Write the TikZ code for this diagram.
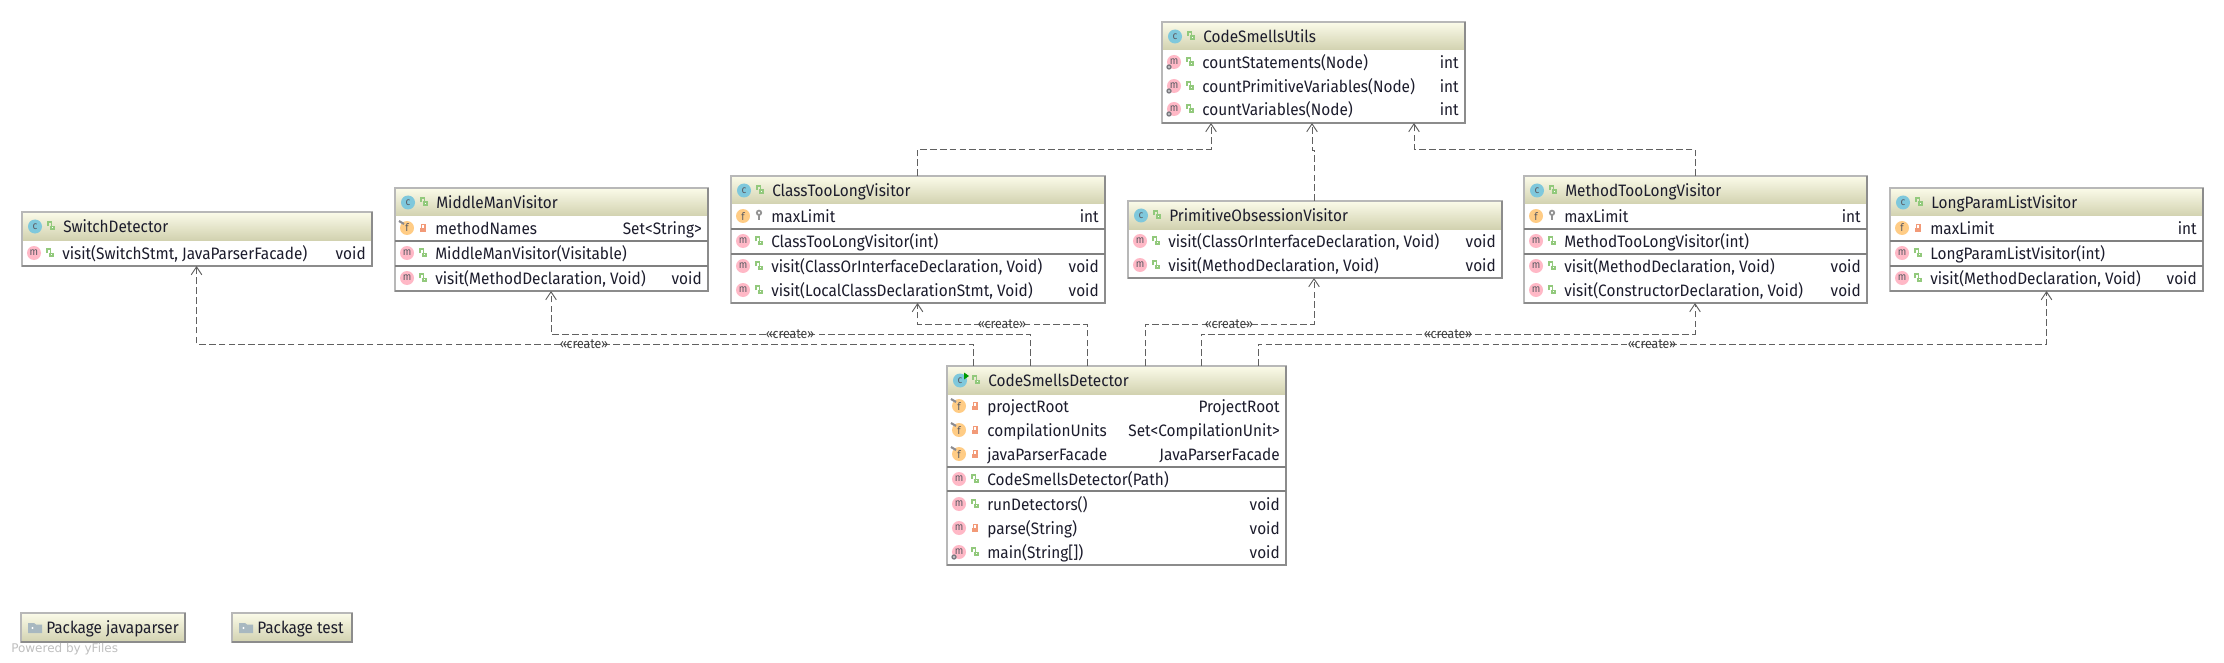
\documentclass[tikz,border=0pt]{standalone}
\usepackage{fontspec}
\setmainfont[FakeStretch=0.93]{Fira Sans}
\newfontfamily\yfont{DejaVu Sans}
\usetikzlibrary{arrows.meta}
\definecolor{hdrtop}{HTML}{FBFBE9}
\definecolor{hdrbot}{HTML}{D2D2B0}
\definecolor{boxline}{HTML}{B8B8B8}
\definecolor{boxshade}{HTML}{8C8C8C}
\definecolor{sepline}{HTML}{808080}
\definecolor{inktext}{HTML}{1C1C2C}
\definecolor{mpink}{HTML}{FFB8C6}
\definecolor{forange}{HTML}{FFCC85}
\definecolor{cblue}{HTML}{7FC8DC}
\definecolor{lockgreen}{HTML}{92C97C}
\definecolor{lockred}{HTML}{F29A78}
\definecolor{iconink}{HTML}{5A5A62}
\definecolor{deplink}{HTML}{606060}
\definecolor{folderc}{HTML}{A8B8C0}
\def\px{0.75pt}
\tikzset{>={Straight Barb[length=6pt,width=8pt]}}
\tikzset{
  classbox/.style={draw=boxline, fill=white, line width=0.8pt, anchor=north west,
    inner sep=0pt, outer sep=0pt},
  header/.style={top color=hdrtop, bottom color=hdrbot},
  pkgbox/.style={draw=boxline, line width=0.8pt, top color=hdrtop, bottom color=hdrbot,
    anchor=north west, inner sep=0pt, outer sep=0pt},
  rowtext/.style={anchor=base west, inner sep=0pt, text=inktext, font=\fontsize{12.4pt}{14pt}\selectfont},
  rowtype/.style={anchor=base east, inner sep=0pt, text=inktext, font=\fontsize{12.4pt}{14pt}\selectfont},
  letter/.style={inner sep=0pt, text=iconink, font=\fontsize{8pt}{8pt}\selectfont},
  stereo/.style={inner sep=0pt, text=black!75, font=\fontsize{10pt}{10pt}\selectfont},
  dep/.style={->, dash pattern=on 5pt off 2.4pt, line width=0.7pt, draw=deplink},
  % member and class icons
  mico/.pic={\fill[mpink] (0,0) circle (7); \node[letter] (-l) at (0,0) {m};},
  msico/.pic={\fill[mpink] (0,0) circle (7); \node[letter] (-l) at (0,0) {m};
    \fill[iconink!80] (-5,5) circle (2.7); \fill[white] (-5,5) circle (0.9);},
  fico/.pic={\fill[forange] (0,0) circle (7); \node[letter] (-l) at (0,0) {f};},
  ffico/.pic={\fill[forange] (0,0) circle (7); \node[letter] (-l) at (0,0) {f};
    \draw[iconink!70, line width=1.6] (-8,-7) -- (-3,-4);},
  cico/.pic={\fill[cblue] (0,0) circle (7); \node[letter] (-l) at (0,0) {c};},
  crico/.pic={\fill[cblue] (0,0) circle (7); \node[letter] (-l) at (0,0) {c};
    \fill[green!60!black] (4,-8) -- (9,-4.5) -- (4,-1) -- cycle;},
  pub/.pic={\fill[lockgreen] (-1.5,-0.5) rectangle (4,4);
    \fill[white] (0.5,1) rectangle (2.2,2.4);
    \draw[lockgreen, line width=1.3] (-3,0) -- (-3,-4) -- (0.5,-4) -- (0.5,-0.5);},
  priv/.pic={\fill[lockred] (-3,-0.5) rectangle (3,4);
    \draw[lockred, line width=1.2] (-1.7,0) -- (-1.7,-3.5) -- (1.7,-3.5) -- (1.7,0);},
  pack/.pic={\draw[boxline!80!black, line width=1.3] (0,-3.2) circle (2.2);
    \draw[boxline!80!black, line width=1.3] (0,-1) -- (0,4.5);},
  folder/.pic={\fill[folderc] (-7,-5) -- (-1,-5) -- (1,-3.5) -- (7,-3.5) -- (7,5) -- (-7,5) -- cycle;
    \fill[white] (-2.5,0) circle (1.2);}
}
% name, left, top, width, height, class icon, visibility, title
\newcommand{\umlclass}[8]{
  \def\lx{#2}\pgfmathsetmacro{\rx}{#2+#4}
  \node[classbox, minimum width=#4*\px, minimum height=#5*\px] (#1) at (#2,#3) {};
  \shade[header] (#1.north west) rectangle ([yshift=-28*\px]#1.north east);
  \draw[boxline, line width=0.8pt] (#1.north west) rectangle (#1.south east);
  \draw[boxshade, line width=0.9pt] (#1.north east) -- (#1.south east) -- (#1.south west);
  \pic (#1i) at (#2+13,#3+14.5) {#6};
  \pic (#1v) at (#2+29,#3+14) {#7};
  \node[rowtext] (#1t) at (#2+41,#3+20.7) {#8};
}
% name, centre y, icon, visibility, text, type
\newcommand{\member}[6]{
  \pic (#1i) at (\lx+12,#2-1) {#3};
  \pic (#1v) at (\lx+28,#2-1) {#4};
  \node[rowtext] (#1t) at (\lx+40,#2+5.7) {#5};
  \node[rowtype] (#1r) at (\rx-6,#2+5.7) {#6};
}
\newcommand{\sep}[2]{\draw[sepline, line width=0.8pt] (#1.west |- 0,#2) -- (#1.east |- 0,#2);}
\begin{document}
\begin{tikzpicture}[x=0.75pt, y=-0.75pt]
  \useasboundingbox (0,0) rectangle (2224,663);

  \umlclass{utils}{1162}{22}{303}{101}{cico}{pub}{CodeSmellsUtils}
  \member{ua}{63}{msico}{pub}{countStatements(Node)}{int}
  \member{ub}{87}{msico}{pub}{countPrimitiveVariables(Node)}{int}
  \member{uc}{110}{msico}{pub}{countVariables(Node)}{int}

  \umlclass{switch}{22}{212}{350}{54}{cico}{pub}{SwitchDetector}
  \member{sa}{254}{mico}{pub}{visit(SwitchStmt, JavaParserFacade)}{void}

  \umlclass{middle}{395}{188}{313}{103}{cico}{pub}{MiddleManVisitor}
  \member{ma}{229}{ffico}{priv}{methodNames}{Set<String>}
  \member{mb}{254}{mico}{pub}{MiddleManVisitor(Visitable)}{}
  \member{mc}{279}{mico}{pub}{visit(MethodDeclaration, Void)}{void}
  \sep{middle}{241}
  \sep{middle}{266}

  \umlclass{toolong}{731}{176}{374}{127}{cico}{pub}{ClassTooLongVisitor}
  \member{ta}{217}{fico}{pack}{maxLimit}{int}
  \member{tb}{242}{mico}{pub}{ClassTooLongVisitor(int)}{}
  \member{tc}{267}{mico}{pub}{visit(ClassOrInterfaceDeclaration, Void)}{void}
  \member{td}{291}{mico}{pub}{visit(LocalClassDeclarationStmt, Void)}{void}
  \sep{toolong}{229}
  \sep{toolong}{254}

  \umlclass{primitive}{1128}{201}{374}{77}{cico}{pub}{PrimitiveObsessionVisitor}
  \member{pa}{242}{mico}{pub}{visit(ClassOrInterfaceDeclaration, Void)}{void}
  \member{pb}{266}{mico}{pub}{visit(MethodDeclaration, Void)}{void}

  \umlclass{method}{1524}{176}{343}{127}{cico}{pub}{MethodTooLongVisitor}
  \member{ya}{217}{fico}{pack}{maxLimit}{int}
  \member{yb}{242}{mico}{pub}{MethodTooLongVisitor(int)}{}
  \member{yc}{267}{mico}{pub}{visit(MethodDeclaration, Void)}{void}
  \member{yd}{291}{mico}{pub}{visit(ConstructorDeclaration, Void)}{void}
  \sep{method}{229}
  \sep{method}{254}

  \umlclass{longparam}{1890}{188}{313}{103}{cico}{pub}{LongParamListVisitor}
  \member{la}{229}{fico}{priv}{maxLimit}{int}
  \member{lb}{254}{mico}{pub}{LongParamListVisitor(int)}{}
  \member{lc}{279}{mico}{pub}{visit(MethodDeclaration, Void)}{void}
  \sep{longparam}{241}
  \sep{longparam}{266}

  \umlclass{detector}{947}{366}{339}{199}{crico}{pub}{CodeSmellsDetector}
  \member{da}{407}{ffico}{priv}{projectRoot}{ProjectRoot}
  \member{db}{431}{ffico}{priv}{compilationUnits}{Set<CompilationUnit>}
  \member{dc}{455}{ffico}{priv}{javaParserFacade}{JavaParserFacade}
  \member{dd}{480}{mico}{pub}{CodeSmellsDetector(Path)}{}
  \member{de}{505}{mico}{pub}{runDetectors()}{void}
  \member{df}{529}{mico}{priv}{parse(String)}{void}
  \member{dg}{553}{msico}{pub}{main(String[])}{void}
  \sep{detector}{467}
  \sep{detector}{491}

  % detector to the visitors
  \draw[dep] ([xshift=26*\px]detector.north west) -- ++(0,-22) -| ([xshift=174.5*\px]switch.south west);
  \draw[dep] ([xshift=83*\px]detector.north west) -- ++(0,-32) -| ([xshift=156*\px]middle.south west);
  \draw[dep] ([xshift=140*\px]detector.north west) -- ++(0,-42) -| ([xshift=186.5*\px]toolong.south west);
  \draw[dep] ([xshift=198*\px]detector.north west) -- ++(0,-42) -| ([xshift=186*\px]primitive.south west);
  \draw[dep] ([xshift=254*\px]detector.north west) -- ++(0,-32) -| ([xshift=171*\px]method.south west);
  \draw[dep] ([xshift=311*\px]detector.north west) -- ++(0,-22) -| ([xshift=156.5*\px]longparam.south west);

  % visitors to the utils
  \draw[dep] ([xshift=186.5*\px]toolong.north west) -- ++(0,-27) -| ([xshift=49*\px]utils.south west);
  \draw[dep] ([xshift=186*\px]primitive.north west) -- ++(0,-51) -| ([xshift=150*\px]utils.south west);
  \draw[dep] ([xshift=171*\px]method.north west) -- ++(0,-27) -| ([xshift=252*\px]utils.south west);

  \node[stereo] (createa) at (584,344) {«create»};
  \node[stereo] (createb) at (790,334) {«create»};
  \node[stereo] (createc) at (1002,324) {«create»};
  \node[stereo] (created) at (1229,324) {«create»};
  \node[stereo] (createe) at (1448,334) {«create»};
  \node[stereo] (createf) at (1652,344) {«create»};

  \node[pkgbox, minimum width=164*\px, minimum height=29*\px] (pkga) at (21,613) {};
  \draw[boxshade, line width=0.9pt] (pkga.north east) -- (pkga.south east) -- (pkga.south west);
  \pic (pkgai) at (35,628) {folder};
  \node[rowtext] (pkgat) at (46,633.5) {Package javaparser};
  \node[pkgbox, minimum width=120*\px, minimum height=29*\px] (pkgb) at (232,613) {};
  \draw[boxshade, line width=0.9pt] (pkgb.north east) -- (pkgb.south east) -- (pkgb.south west);
  \pic (pkgbi) at (246,628) {folder};
  \node[rowtext] (pkgbt) at (257,633.5) {Package test};

  \node[inner sep=0pt, anchor=base west, text=black!25, font=\yfont\fontsize{9pt}{11pt}\selectfont] (yfiles) at (11,652) {Powered by yFiles};
\end{tikzpicture}
\end{document}
